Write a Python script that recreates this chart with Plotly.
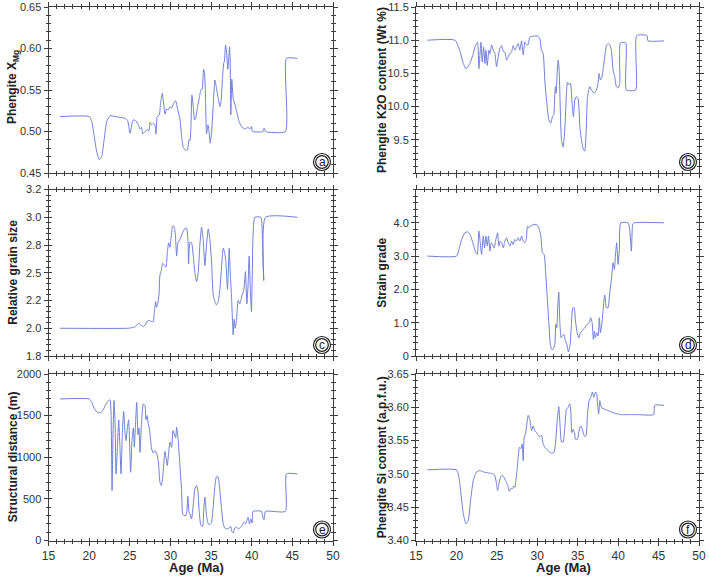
import plotly.graph_objects as go

# ---------------- data ----------------
age_a = [16.43, 20.03, 20.32, 20.61, 20.94, 21.26, 21.55, 21.84, 22.16, 22.57, 23.19, 23.80, 24.41, 24.74, 25.03, 25.19, 25.36, 25.64, 26.05, 26.26, 26.46, 26.58, 26.87, 27.16, 27.36, 27.48, 27.69, 27.89, 28.10, 28.22, 28.38, 28.63, 28.79, 29.00, 29.12, 29.33, 29.53, 29.74, 29.94, 30.15, 30.35, 30.64, 30.88, 31.17, 31.37, 31.58, 31.91, 32.11, 32.27, 32.40, 32.52, 32.64, 32.81, 32.97, 33.13, 33.34, 33.54, 33.75, 33.91, 34.07, 34.20, 34.32, 34.44, 34.61, 34.73, 34.89, 35.06, 35.26, 35.47, 35.67, 35.88, 36.08, 36.24, 36.41, 36.57, 36.65, 36.78, 36.90, 37.06, 37.19, 37.27, 37.35, 37.43, 37.55, 37.72, 37.92, 38.13, 38.45, 38.74, 39.15, 39.56, 39.76, 39.97, 40.09, 41.40, 41.52, 41.69, 44.14, 44.27, 45.62]
xmg_a = [0.518, 0.518, 0.512, 0.495, 0.475, 0.466, 0.470, 0.490, 0.512, 0.519, 0.518, 0.517, 0.516, 0.513, 0.498, 0.505, 0.513, 0.514, 0.508, 0.503, 0.505, 0.497, 0.500, 0.502, 0.501, 0.511, 0.508, 0.510, 0.508, 0.497, 0.518, 0.520, 0.534, 0.546, 0.538, 0.521, 0.527, 0.526, 0.530, 0.528, 0.533, 0.537, 0.527, 0.515, 0.495, 0.481, 0.477, 0.478, 0.490, 0.489, 0.505, 0.544, 0.530, 0.514, 0.517, 0.530, 0.540, 0.550, 0.551, 0.575, 0.570, 0.540, 0.497, 0.508, 0.502, 0.486, 0.498, 0.530, 0.562, 0.552, 0.540, 0.530, 0.538, 0.565, 0.583, 0.585, 0.604, 0.597, 0.575, 0.590, 0.602, 0.585, 0.520, 0.563, 0.540, 0.533, 0.525, 0.512, 0.506, 0.503, 0.505, 0.503, 0.506, 0.500, 0.500, 0.504, 0.500, 0.500, 0.588, 0.588]

age_b = [16.40, 19.82, 20.40, 20.85, 21.18, 21.67, 22.08, 22.37, 22.62, 22.78, 23.03, 23.19, 23.36, 23.52, 23.65, 23.81, 24.02, 24.14, 24.35, 24.55, 24.76, 24.96, 25.17, 25.37, 25.58, 25.79, 25.99, 26.20, 26.40, 26.61, 26.82, 27.02, 27.23, 27.43, 27.64, 27.84, 28.05, 28.26, 28.46, 28.67, 28.87, 29.08, 29.49, 30.11, 30.32, 30.52, 30.73, 30.93, 31.14, 31.43, 31.67, 31.88, 32.04, 32.17, 32.25, 32.33, 32.46, 32.58, 32.70, 32.87, 32.99, 33.20, 33.40, 33.61, 33.73, 33.94, 34.10, 34.31, 34.47, 34.64, 34.84, 35.05, 35.26, 35.46, 35.71, 35.87, 36.04, 36.21, 36.49, 36.70, 37.03, 37.31, 37.52, 37.64, 37.81, 38.01, 38.18, 38.34, 38.55, 38.75, 38.96, 39.17, 39.37, 39.58, 39.78, 39.99, 40.20, 40.28, 40.94, 41.02, 42.17, 42.29, 43.57, 43.69, 45.67]
k2o_b = [11.00, 11.00, 10.85, 10.65, 10.57, 10.65, 10.80, 10.92, 10.97, 10.57, 10.97, 10.67, 10.90, 10.65, 10.85, 10.62, 10.85, 10.80, 10.93, 10.85, 10.80, 10.60, 10.75, 10.88, 10.92, 10.83, 10.82, 10.70, 10.75, 10.80, 10.82, 10.92, 10.85, 10.90, 10.95, 10.85, 10.99, 10.78, 10.97, 10.93, 10.93, 11.05, 11.06, 11.06, 11.02, 10.85, 10.80, 10.40, 10.10, 9.80, 9.75, 9.85, 9.88, 10.20, 10.30, 10.20, 10.50, 10.70, 10.55, 9.85, 9.50, 9.39, 9.65, 10.20, 10.37, 10.33, 10.35, 10.05, 9.85, 10.10, 10.15, 10.12, 9.70, 9.50, 9.35, 9.33, 9.60, 10.15, 10.30, 10.25, 10.20, 10.25, 10.35, 10.50, 10.40, 10.45, 10.60, 10.75, 10.92, 10.95, 10.93, 10.85, 10.55, 10.45, 10.30, 10.28, 10.35, 10.96, 10.96, 10.25, 10.25, 11.07, 11.07, 10.99, 10.99]

age_c = [16.43, 24.82, 25.23, 25.64, 25.85, 26.09, 26.34, 26.67, 26.91, 27.16, 27.40, 27.69, 27.89, 28.02, 28.18, 28.30, 28.43, 28.59, 28.71, 28.88, 29.04, 29.24, 29.45, 29.61, 29.78, 29.94, 30.10, 30.27, 30.43, 30.60, 30.76, 30.92, 31.17, 31.50, 31.78, 31.99, 32.15, 32.23, 32.40, 32.60, 32.81, 33.01, 33.22, 33.42, 33.62, 33.83, 34.03, 34.24, 34.44, 34.65, 34.85, 35.06, 35.26, 35.47, 35.67, 35.88, 36.08, 36.29, 36.49, 36.65, 36.82, 37.02, 37.23, 37.39, 37.51, 37.72, 37.84, 37.96, 38.13, 38.33, 38.54, 38.82, 39.03, 39.23, 39.40, 39.56, 39.68, 39.85, 39.97, 40.17, 40.38, 41.12, 41.32, 41.48, 41.69, 45.62]
grain_c = [2.00, 2.00, 2.005, 2.01, 2.03, 2.045, 2.03, 2.015, 2.03, 2.065, 2.07, 2.06, 2.06, 2.14, 2.24, 2.19, 2.22, 2.30, 2.48, 2.52, 2.585, 2.57, 2.55, 2.67, 2.77, 2.73, 2.83, 2.92, 2.92, 2.85, 2.65, 2.77, 2.80, 2.86, 2.90, 2.90, 2.80, 2.58, 2.775, 2.77, 2.65, 2.50, 2.42, 2.50, 2.75, 2.91, 2.80, 2.565, 2.75, 2.895, 2.80, 2.60, 2.30, 2.24, 2.21, 2.24, 2.35, 2.55, 2.72, 2.69, 2.60, 2.35, 2.72, 2.45, 2.30, 1.94, 2.08, 2.00, 2.07, 2.25, 2.22, 2.30, 2.35, 2.51, 2.22, 2.40, 2.65, 2.30, 2.15, 2.85, 3.00, 3.00, 2.80, 2.43, 3.00, 3.00]

age_d = [16.40, 20.02, 20.31, 20.64, 21.05, 21.34, 21.67, 21.96, 22.20, 22.41, 22.58, 22.78, 22.95, 23.11, 23.32, 23.48, 23.65, 23.81, 23.97, 24.14, 24.30, 24.47, 24.67, 24.88, 25.09, 25.25, 25.42, 25.58, 25.79, 25.99, 26.20, 26.40, 26.61, 26.82, 27.02, 27.23, 27.43, 27.64, 27.84, 28.05, 28.26, 28.46, 28.63, 28.79, 28.96, 29.12, 29.29, 29.57, 29.90, 30.19, 30.44, 30.64, 30.85, 31.01, 31.22, 31.43, 31.59, 31.76, 31.96, 32.17, 32.29, 32.41, 32.54, 32.66, 32.79, 32.95, 33.11, 33.28, 33.44, 33.65, 33.85, 34.06, 34.23, 34.39, 34.56, 34.72, 34.93, 35.13, 35.34, 35.54, 35.87, 36.16, 36.41, 36.61, 36.78, 36.94, 37.07, 37.19, 37.35, 37.52, 37.68, 37.81, 38.01, 38.18, 38.34, 38.55, 38.75, 38.96, 39.17, 39.37, 39.54, 39.66, 39.82, 39.99, 40.15, 40.32, 41.22, 41.43, 41.64, 41.80, 41.97, 45.67]
strain_d = [3.00, 3.00, 3.20, 3.50, 3.70, 3.73, 3.65, 3.45, 3.25, 3.10, 3.05, 3.75, 3.40, 3.05, 3.60, 3.25, 3.60, 3.30, 3.60, 3.15, 3.40, 3.35, 3.25, 3.50, 3.70, 3.30, 3.45, 3.40, 3.25, 3.45, 3.55, 3.40, 3.30, 3.45, 3.35, 3.50, 3.45, 3.55, 3.45, 3.60, 3.45, 3.40, 3.50, 3.90, 3.85, 3.90, 3.92, 3.95, 3.95, 3.85, 3.60, 3.10, 3.05, 2.60, 1.80, 1.00, 0.40, 0.20, 0.20, 0.35, 0.95, 0.85, 1.50, 1.92, 1.00, 0.55, 0.60, 0.65, 0.50, 0.35, 0.12, 0.35, 1.00, 1.45, 1.45, 1.05, 0.70, 0.55, 0.70, 0.75, 0.85, 0.95, 1.00, 1.15, 1.00, 0.50, 0.75, 0.55, 0.70, 0.60, 1.15, 0.70, 1.00, 1.50, 1.83, 1.45, 1.45, 1.90, 2.30, 2.80, 2.60, 3.00, 3.40, 2.75, 3.20, 4.00, 4.00, 3.80, 3.15, 3.95, 4.00, 4.00]

age_e = [16.43, 20.03, 20.32, 20.61, 20.94, 21.26, 21.67, 22.08, 22.37, 22.57, 22.70, 22.82, 22.94, 23.06, 23.19, 23.31, 23.47, 23.64, 23.80, 23.92, 24.09, 24.25, 24.41, 24.54, 24.70, 24.86, 25.03, 25.11, 25.27, 25.44, 25.56, 25.68, 25.85, 26.01, 26.13, 26.26, 26.46, 26.67, 26.87, 26.99, 27.12, 27.28, 27.40, 27.57, 27.69, 27.89, 28.10, 28.30, 28.51, 28.71, 28.88, 29.04, 29.20, 29.33, 29.45, 29.61, 29.78, 29.94, 30.15, 30.31, 30.47, 30.64, 30.76, 30.96, 31.17, 31.37, 31.50, 31.66, 31.91, 32.03, 32.15, 32.27, 32.40, 32.60, 32.81, 33.01, 33.22, 33.38, 33.54, 33.75, 33.95, 34.12, 34.24, 34.44, 34.65, 34.85, 35.06, 35.26, 35.47, 35.67, 35.88, 36.08, 36.29, 36.49, 36.69, 36.90, 37.23, 37.39, 37.55, 37.72, 37.92, 38.13, 38.37, 38.54, 38.82, 39.03, 39.23, 39.44, 39.56, 39.72, 39.89, 40.05, 40.17, 41.20, 41.40, 41.52, 41.69, 44.14, 44.27, 45.62]
dist_e = [1700, 1700, 1660, 1590, 1545, 1530, 1560, 1640, 1680, 1690, 1500, 600, 1300, 1680, 1400, 800, 1100, 1450, 1100, 800, 1300, 1550, 1300, 1200, 1350, 1450, 1000, 820, 1200, 1350, 1120, 1350, 1660, 1270, 1350, 1060, 1450, 1640, 1620, 1450, 1500, 1400, 1350, 1200, 1100, 1050, 1080, 1050, 950, 700, 660, 750, 950, 1070, 1000, 900, 1050, 1180, 1120, 1320, 1280, 1230, 1360, 1200, 900, 600, 320, 300, 300, 360, 530, 350, 320, 260, 430, 620, 660, 600, 350, 180, 170, 400, 520, 300, 200, 190, 220, 400, 650, 770, 760, 600, 380, 200, 150, 140, 150, 170, 110, 90, 150, 160, 140, 150, 180, 220, 200, 250, 280, 200, 260, 210, 350, 350, 270, 250, 350, 350, 800, 800]

age_f = [16.40, 20.02, 20.31, 20.56, 20.85, 21.18, 21.46, 21.75, 22.08, 22.49, 22.90, 23.32, 23.73, 24.14, 24.55, 24.76, 24.96, 25.09, 25.25, 25.46, 25.66, 25.87, 26.07, 26.28, 26.40, 26.53, 26.73, 26.94, 27.10, 27.23, 27.35, 27.47, 27.64, 27.80, 27.97, 28.13, 28.26, 28.38, 28.54, 28.71, 28.87, 29.08, 29.29, 29.49, 29.70, 29.90, 30.11, 30.32, 30.52, 30.73, 30.93, 31.34, 31.76, 32.04, 32.25, 32.46, 32.66, 32.83, 32.99, 33.20, 33.40, 33.61, 33.81, 34.02, 34.14, 34.27, 34.43, 34.60, 34.72, 34.97, 35.13, 35.34, 35.54, 35.71, 35.87, 36.04, 36.21, 36.41, 36.61, 36.82, 36.98, 37.19, 37.35, 37.48, 37.60, 37.73, 37.93, 38.34, 38.75, 39.17, 39.58, 39.99, 40.40, 41.64, 42.46, 44.39, 44.52, 45.67]
si_f = [3.506, 3.506, 3.495, 3.470, 3.440, 3.425, 3.430, 3.460, 3.490, 3.503, 3.505, 3.503, 3.502, 3.501, 3.500, 3.497, 3.485, 3.475, 3.485, 3.495, 3.498, 3.495, 3.490, 3.485, 3.480, 3.474, 3.478, 3.478, 3.482, 3.480, 3.490, 3.502, 3.525, 3.540, 3.538, 3.545, 3.520, 3.555, 3.560, 3.575, 3.588, 3.582, 3.565, 3.572, 3.565, 3.562, 3.558, 3.556, 3.558, 3.545, 3.540, 3.535, 3.531, 3.532, 3.545, 3.580, 3.601, 3.570, 3.548, 3.548, 3.570, 3.597, 3.600, 3.605, 3.595, 3.562, 3.567, 3.562, 3.552, 3.552, 3.562, 3.572, 3.568, 3.560, 3.556, 3.558, 3.590, 3.610, 3.615, 3.623, 3.615, 3.623, 3.620, 3.600, 3.590, 3.610, 3.600, 3.597, 3.595, 3.593, 3.591, 3.590, 3.589, 3.589, 3.589, 3.589, 3.603, 3.603]

# tick values / labels
age_ticks = [15, 20, 25, 30, 35, 40, 45, 50]
ticks_a = [0.45, 0.50, 0.55, 0.60, 0.65]
labels_a = ["0.45", "0.50", "0.55", "0.60", "0.65"]
ticks_b = [9.5, 10.0, 10.5, 11.0, 11.5]
labels_b = ["9.5", "10.0", "10.5", "11.0", "11.5"]
ticks_c = [1.75, 2.0, 2.25, 2.5, 2.75, 3.0, 3.25]
labels_c = ["1.8", "2.0", "2.2", "2.5", "2.8", "3.0", "3.2"]
ticks_d = [0, 1, 2, 3, 4]
labels_d = ["0", "1.0", "2.0", "3.0", "4.0"]
ticks_e = [0, 500, 1000, 1500, 2000]
labels_e = ["0", "500", "1000", "1500", "2000"]
ticks_f = [3.40, 3.45, 3.50, 3.55, 3.60, 3.65]
labels_f = ["3.40", "3.45", "3.50", "3.55", "3.60", "3.65"]

for xs, ys in [(age_a, xmg_a), (age_b, k2o_b), (age_c, grain_c), (age_d, strain_d), (age_e, dist_e), (age_f, si_f)]:
    assert len(xs) == len(ys), (len(xs), len(ys))

# ---------------- style / layout ----------------
W, H = 709, 576
LINE = "#6f7fd6"
AX = "#3c3c3c"
TXT = "#333333"
FONT = "Arial, Liberation Sans, sans-serif"


def fx(px):  # pixel x -> paper
    return px / W


def fy(py):  # pixel y -> paper
    return 1 - py / H


col_dom = [[fx(48.5), fx(333)], [fx(416), fx(699)]]
row_px = [(7, 173), (189.5, 356), (374, 540.5)]
row_dom = [[fy(b), fy(t)] for t, b in row_px]

panels = [
    dict(x=age_a, y=xmg_a, r=0, c=0, yr=[0.45, 0.65], tv=ticks_a, tt=labels_a, mn=0.01, lab="a",
         title="Phengite X<sub>Mg</sub>", tcy=87),
    dict(x=age_b, y=k2o_b, r=0, c=1, yr=[9.0, 11.5], tv=ticks_b, tt=labels_b, mn=0.1, lab="b",
         title="Phengite K2O content (Wt %)", tcy=None),
    dict(x=age_c, y=grain_c, r=1, c=0, yr=[1.75, 3.25], tv=ticks_c, tt=labels_c, mn=0.05, lab="c",
         title="Relative grain size", tcy=None),
    dict(x=age_d, y=strain_d, r=1, c=1, yr=[0, 5], tv=ticks_d, tt=labels_d, mn=0.2, lab="d",
         title="Strain grade", tcy=None),
    dict(x=age_e, y=dist_e, r=2, c=0, yr=[0, 2000], tv=ticks_e, tt=labels_e, mn=100, lab="e",
         title="Structural distance (m)", tcy=None),
    dict(x=age_f, y=si_f, r=2, c=1, yr=[3.40, 3.65], tv=ticks_f, tt=labels_f, mn=0.01, lab="f",
         title="Phengite Si content (a.p.f.u.)", tcy=None),
]


def ref(letter, n):
    return letter if n == 1 else f"{letter}{n}"


def key(letter, n):
    return f"{letter}axis" if n == 1 else f"{letter}axis{n}"


fig = go.Figure()
layout = {}
shapes = []
annotations = []
tickfont = dict(family=FONT, size=11, color=TXT)

for i, p in enumerate(panels):
    n = i + 1
    o = n + 6
    xr, yr_ = ref("x", n), ref("y", n)
    fig.add_trace(go.Scatter(x=p["x"], y=p["y"], xaxis=xr, yaxis=yr_, mode="lines",
                             line=dict(color=LINE, width=1, shape="spline", smoothing=0.5),
                             showlegend=False, hoverinfo="x+y"))
    fig.add_trace(go.Scatter(x=p["x"], y=p["y"], xaxis=ref("x", o), yaxis=ref("y", o), mode="lines",
                             line=dict(color=LINE, width=1), opacity=0, showlegend=False, hoverinfo="skip"))

    common_x = dict(range=[15, 50], tickmode="array", tickvals=age_ticks, showgrid=False, zeroline=False,
                    tickcolor=AX, tickwidth=1, linecolor=AX, linewidth=1, fixedrange=True, automargin=False)
    layout[key("x", n)] = dict(common_x, domain=col_dom[p["c"]], anchor=yr_, ticks="outside", ticklen=4,
                               showline=True, mirror="ticks", showticklabels=(p["r"] == 2),
                               tickfont=dict(family=FONT, size=12, color=TXT),
                               minor=dict(ticks="outside", ticklen=2, tickmode="linear", tick0=15, dtick=1,
                                          tickcolor=AX, showgrid=False))
    layout[key("x", o)] = dict(common_x, overlaying=xr, anchor=ref("y", o), ticks="inside", ticklen=3,
                               showline=False, mirror="ticks", showticklabels=False,
                               minor=dict(ticks="inside", ticklen=2, tickmode="linear", tick0=15, dtick=1,
                                          tickcolor=AX, showgrid=False))
    common_y = dict(range=p["yr"], tickmode="array", tickvals=p["tv"], ticktext=p["tt"], showgrid=False,
                    zeroline=False, tickcolor=AX, tickwidth=1, linecolor=AX, linewidth=1, fixedrange=True,
                    automargin=False)
    layout[key("y", n)] = dict(common_y, domain=row_dom[p["r"]], anchor=xr, ticks="outside", ticklen=4,
                               showline=True, mirror="ticks", tickfont=tickfont,
                               minor=dict(ticks="outside", ticklen=2, tickmode="linear", tick0=0, dtick=p["mn"],
                                          tickcolor=AX, showgrid=False))
    layout[key("y", o)] = dict(common_y, overlaying=yr_, anchor=ref("x", o), ticks="inside", ticklen=3,
                               showline=False, mirror="ticks", showticklabels=False,
                               minor=dict(ticks="inside", ticklen=2, tickmode="linear", tick0=0, dtick=p["mn"],
                                          tickcolor=AX, showgrid=False))

    # circled panel letter
    for rad in (8.5, 6.3):
        shapes.append(dict(type="circle", xref=f"{xr} domain", yref=f"{yr_} domain",
                           xsizemode="pixel", ysizemode="pixel", xanchor=1, yanchor=0,
                           x0=-11 - rad, x1=-11 + rad, y0=11 - rad, y1=11 + rad,
                           line=dict(color="#222222", width=1.2)))
    annotations.append(dict(text=p["lab"], xref=f"{xr} domain", yref=f"{yr_} domain", x=1, y=0,
                            xshift=-11, yshift=11, xanchor="center", yanchor="middle", showarrow=False,
                            font=dict(family=FONT, size=12, color="#222222")))

    # y-axis title
    t, b = row_px[p["r"]]
    cy = p["tcy"] if p["tcy"] is not None else (t + b) / 2
    tx = 13 if p["c"] == 0 else 382
    annotations.append(dict(text=p["title"], xref="paper", yref="paper", x=fx(tx), y=fy(cy),
                            xanchor="center", yanchor="middle", textangle=-90, showarrow=False,
                            font=dict(family=FONT, size=12, color="#222222", weight="bold")))

# x-axis titles
for cx in (196, 563):
    annotations.append(dict(text="Age (Ma)", xref="paper", yref="paper", x=fx(cx), y=fy(567),
                            xanchor="center", yanchor="middle", showarrow=False,
                            font=dict(family=FONT, size=13, color="#222222", weight="bold")))

fig.update_layout(width=W, height=H, margin=dict(l=0, r=0, t=0, b=0, autoexpand=False),
                  paper_bgcolor="white", plot_bgcolor="white", shapes=shapes, annotations=annotations,
                  showlegend=False, font=dict(family=FONT, color=TXT), **layout)

# place the figure at the very top-left of the page (no default body margin)
fig.write_html("out.html", config={"displayModeBar": False},
               post_script="document.body.style.margin='0px';")
